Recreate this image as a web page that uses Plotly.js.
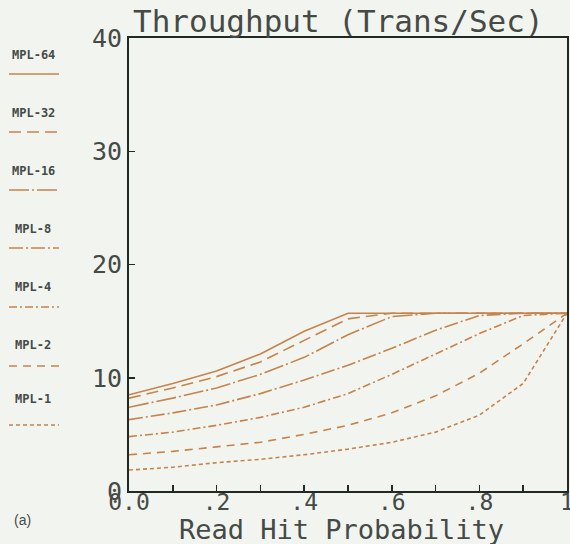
<!DOCTYPE html>
<html>
<head>
<meta charset="utf-8">
<script src="https://cdn.plot.ly/plotly-3.0.1.min.js"></script>
<style>
  html, body { margin: 0; padding: 0; background: #f2f5ef; }
  #chart { width: 570px; height: 544px; }
</style>
</head>
<body>
<div id="chart"></div>
<script>
// ---- data ----
const readHit = [0.0, 0.1, 0.2, 0.3, 0.4, 0.5, 0.6, 0.7, 0.8, 0.9, 1.0];
const seriesNames = ["MPL-64", "MPL-32", "MPL-16", "MPL-8", "MPL-4", "MPL-2", "MPL-1"];
const mpl64 = [8.5, 9.5, 10.6, 12.1, 14.1, 15.7, 15.7, 15.7, 15.7, 15.7, 15.7];
const mpl32 = [8.2, 9.1, 10.1, 11.4, 13.3, 15.2, 15.7, 15.7, 15.7, 15.7, 15.7];
const mpl16 = [7.4, 8.2, 9.1, 10.3, 11.8, 13.8, 15.4, 15.7, 15.7, 15.7, 15.7];
const mpl8  = [6.3, 6.9, 7.6, 8.6, 9.8, 11.1, 12.6, 14.2, 15.5, 15.7, 15.7];
const mpl4  = [4.8, 5.2, 5.8, 6.5, 7.4, 8.6, 10.3, 12.1, 13.9, 15.5, 15.7];
const mpl2  = [3.2, 3.5, 3.9, 4.3, 5.0, 5.8, 6.9, 8.4, 10.4, 13.0, 15.7];
const mpl1  = [1.85, 2.1, 2.5, 2.8, 3.2, 3.7, 4.3, 5.2, 6.7, 9.5, 15.7];
const seriesValues = [mpl64, mpl32, mpl16, mpl8, mpl4, mpl2, mpl1];
const xTickVals = [0, 0.2, 0.4, 0.6, 0.8, 1.0];
const xTickText = ["0.0", ".2", ".4", ".6", ".8", "1"];
const yTickVals = [0, 10, 20, 30, 40];
const yTickText = ["0", "10", "20", "30", "40"];
const xTitle = "Read Hit Probability";
const chartTitle = "Throughput (Trans/Sec)";

// ---- styles ----
const lineColor = "#c8824c";
const dashes = ["solid", "12px,6px", "20px,3px,2px,3px", "14px,3px,2px,3px", "8px,3px,2px,3px", "8px,6px", "4px,3px"];
const mono = "DejaVu Sans Mono, monospace";
const textColor = "#454a46";
const axisColor = "#1f2a24";
const bg = "#f2f5ef";

const W = 570, H = 544;
const L = 129, R = 567, T = 38, B = 491;
const px2x = p => (p - L) / (R - L);
const py2y = p => (B - p) / (B - T);

const traces = seriesValues.map((vals, i) => ({
  x: readHit, y: vals, type: "scatter", mode: "lines",
  name: seriesNames[i], showlegend: false,
  line: { color: lineColor, width: 1.6, dash: dashes[i] },
  hoverinfo: "skip"
}));

// manual legend: text above line sample, left column
const legendTextY = [55, 113, 171, 229, 287, 345, 399];
const legendLineY = [74, 132, 190, 248, 307, 366, 425];
const annotations = seriesNames.map((n, i) => ({
  xref: "paper", yref: "paper", x: px2x(33), y: py2y(legendTextY[i]),
  text: "<b>" + n + "</b>", showarrow: false, xanchor: "center", yanchor: "middle",
  font: { family: mono, size: 12, color: textColor }
}));
annotations.push({
  xref: "paper", yref: "paper", x: px2x(22), y: py2y(520),
  text: "(a)", showarrow: false, xanchor: "center", yanchor: "middle",
  font: { family: "Liberation Sans, Arial, sans-serif", size: 14, color: textColor }
});
// x-axis title placed close under the tick labels, as in the reference
annotations.push({
  xref: "paper", yref: "paper", x: px2x(341), y: py2y(529),
  text: xTitle, showarrow: false, xanchor: "center", yanchor: "middle",
  font: { family: mono, size: 27, color: textColor }
});
const shapes = seriesNames.map((n, i) => ({
  type: "line", xref: "paper", yref: "paper",
  x0: px2x(9), x1: px2x(59), y0: py2y(legendLineY[i]), y1: py2y(legendLineY[i]),
  line: { color: lineColor, width: 1.6, dash: dashes[i] }
}));

const layout = {
  width: W, height: H,
  margin: { l: L, r: W - R, t: T, b: H - B, pad: 0 },
  paper_bgcolor: bg,
  plot_bgcolor: bg,
  showlegend: false,
  title: {
    text: chartTitle,
    x: 133 / W, xanchor: "left", xref: "container",
    y: 1 - 21 / H, yanchor: "middle", yref: "container",
    font: { family: mono, size: 31, color: textColor }
  },
  xaxis: {
    range: [0, 1], showgrid: false, zeroline: false,
    showline: true, mirror: true, linecolor: axisColor, linewidth: 2,
    tickmode: "array", tickvals: xTickVals, ticktext: xTickText,
    ticks: "inside", ticklen: 6, tickcolor: axisColor, tickwidth: 1.5,
    minor: { dtick: 0.1, ticks: "inside", ticklen: 6, tickcolor: axisColor, tickwidth: 1.5 },
    tickfont: { family: mono, size: 23, color: textColor },
    ticklabelstandoff: -11,
    ticklabeloverflow: "allow",
    fixedrange: true
  },
  yaxis: {
    range: [0, 40], showgrid: false, zeroline: false,
    showline: true, mirror: true, linecolor: axisColor, linewidth: 2,
    tickmode: "array", tickvals: yTickVals, ticktext: yTickText,
    ticks: "inside", ticklen: 6, tickcolor: axisColor, tickwidth: 1.5,
    tickfont: { family: mono, size: 25, color: textColor },
    fixedrange: true
  },
  annotations: annotations,
  shapes: shapes
};

Plotly.newPlot("chart", traces, layout, { staticPlot: true, displayModeBar: false });
</script>
</body>
</html>
